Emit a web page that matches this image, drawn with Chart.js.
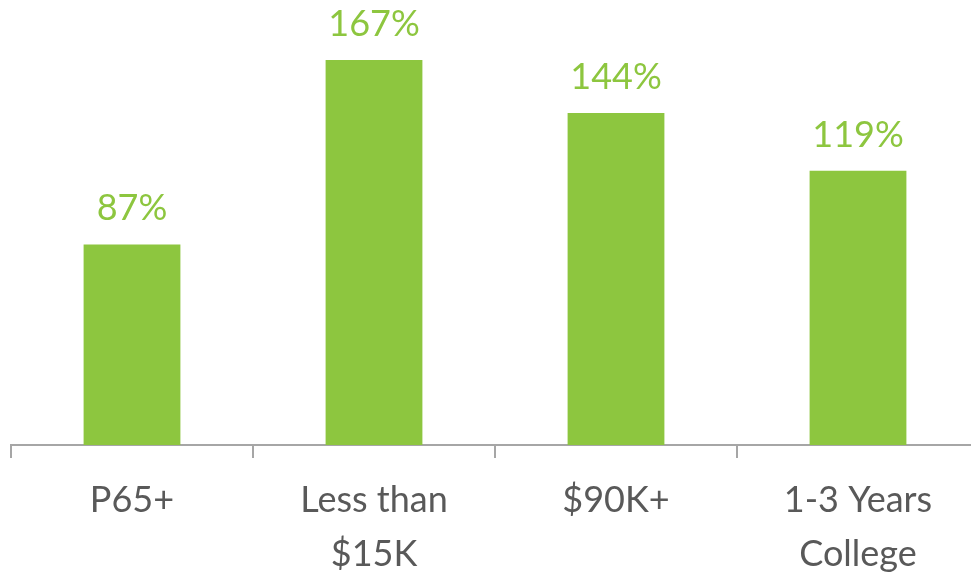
<!DOCTYPE html>
<html>
<head>
<meta charset="utf-8">
<script src="https://cdn.jsdelivr.net/npm/chart.js@4"></script>
<style>
html,body{margin:0;padding:0;overflow:hidden;background:#fff;width:971px;height:574px;}
#wrap{position:absolute;left:0;top:0;width:990px;height:596px;}
</style>
</head>
<body>
<div id="wrap"><canvas id="c" width="990" height="596"></canvas></div>
<script>
const categories = [["P65+"], ["Less than", "$15K"], ["$90K+"], ["1-3 Years", "College"]];
const values = [87, 167, 144, 119];
const valueLabels = ["87%", "167%", "144%", "119%"];

const GREEN = '#8DC63F';
const TEXT = '#595959';
const AXIS = '#A6A6A6';

const valueLabelPlugin = {
  id: 'valueLabels',
  afterDatasetsDraw(chart) {
    const ctx = chart.ctx;
    const meta = chart.getDatasetMeta(0);
    ctx.save();
    ctx.font = '36px Lato';
    ctx.fillStyle = GREEN;
    ctx.textAlign = 'center';
    ctx.textBaseline = 'alphabetic';
    meta.data.forEach((bar, i) => {
      ctx.fillText(valueLabels[i], bar.x, bar.y - 24);
    });
    ctx.restore();
  }
};

new Chart(document.getElementById('c'), {
  type: 'bar',
  data: {
    labels: categories,
    datasets: [{
      data: values,
      backgroundColor: GREEN,
      borderWidth: 0,
      categoryPercentage: 1.0,
      barPercentage: 0.4
    }]
  },
  options: {
    responsive: false,
    animation: false,
    layout: { padding: { left: 11, right: 11, top: 7, bottom: 0 } },
    plugins: { legend: { display: false }, tooltip: { enabled: false } },
    scales: {
      y: { display: false, min: 0, max: 190 },
      x: {
        grid: { display: true, drawOnChartArea: false, drawTicks: true, tickLength: 13, color: AXIS, lineWidth: 2, offset: true },
        border: { display: true, color: AXIS, width: 2 },
        ticks: { color: TEXT, font: { family: 'Lato', size: 36, lineHeight: 1.5 }, padding: 15, maxRotation: 0, autoSkip: false }
      }
    }
  },
  plugins: [valueLabelPlugin]
});
</script>
</body>
</html>
